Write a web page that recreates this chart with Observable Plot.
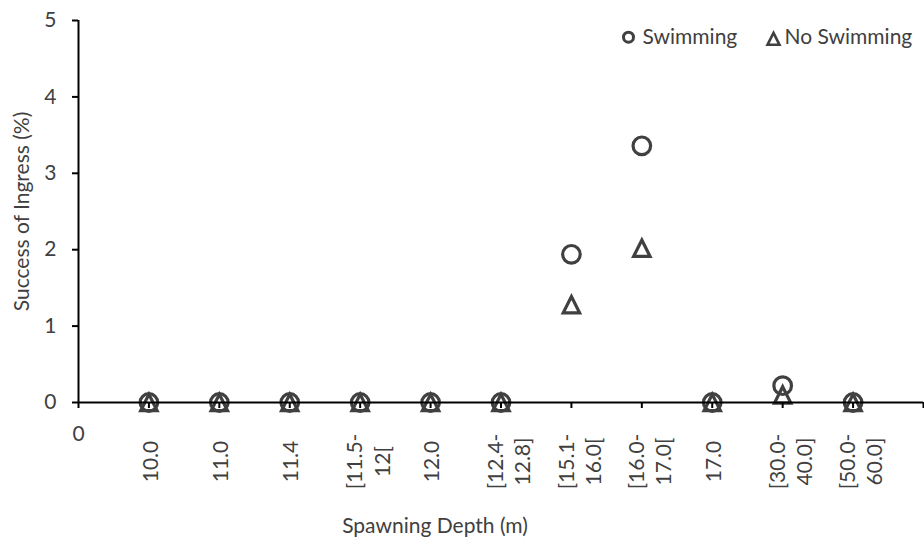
<!DOCTYPE html>
<html>
<head>
<meta charset="utf-8">
<script src="https://cdn.jsdelivr.net/npm/d3@7"></script>
<script src="https://cdn.jsdelivr.net/npm/@observablehq/plot@0.6"></script>
<style>
  html, body { margin: 0; padding: 0; background: #fff; }
  #chart svg { display: block; }
</style>
</head>
<body>
<div id="chart"></div>
<script>
// Spawning depth classes (category axis, positions 1..11)
const categories = [
  "10.0", "11.0", "11.4", "[11.5-\n12[", "12.0", "[12.4-\n12.8]",
  "[15.1-\n16.0[", "[16.0-\n17.0[", "17.0", "[30.0-\n40.0]", "[50.0-\n60.0]"
];
// Success of ingress (%) per depth class
const swimming   = [0, 0, 0, 0, 0, 0, 1.94, 3.36, 0, 0.22, 0];
const noSwimming = [0, 0, 0, 0, 0, 0, 1.28, 2.02, 0, 0.10, 0];
const seriesNames = ["Swimming", "No Swimming"];
const yTicks = [0, 1, 2, 3, 4, 5];
const xTicks = d3.range(0, 13);
const xOriginLabel = "0";

const ink = "#404040";
const font = "Lato, 'Open Sans', sans-serif";
const fs = 21;

// Triangle that fills a square box (width = height), centred on the point
const boxTriangle = {
  draw(context, size) {
    const r = Math.sqrt(size / Math.PI);
    context.moveTo(0, -r);
    context.lineTo(r, r);
    context.lineTo(-r, r);
    context.closePath();
  }
};

const points = (values) => values.map((v, i) => ({pos: i + 1, value: v}));
const labels = categories.map((c, i) => ({pos: i + 1, label: c, multi: c.includes("\n")}));

const chart = Plot.plot({
  width: 924,
  height: 537,
  marginLeft: 78,
  marginRight: 1,
  marginTop: 20,
  marginBottom: 135,
  x: {domain: [0, 12], axis: null},
  y: {domain: [0, 5], axis: null},
  style: {fontFamily: font, fontSize: fs + "px", background: "#fff", color: ink},
  marks: [
    // series markers
    Plot.dot(points(swimming), {
      x: "pos", y: "value", symbol: "circle", r: 8.8,
      fill: "none", stroke: ink, strokeWidth: 3.2
    }),
    Plot.dot(points(noSwimming), {
      x: "pos", y: "value", symbol: boxTriangle, r: 8.2,
      fill: "none", stroke: ink, strokeWidth: 3.2
    }),

    // axis lines
    Plot.ruleX([0], {y1: 0, y2: 5, stroke: "black", strokeWidth: 2}),
    Plot.ruleY([0], {x1: 0, x2: 12, stroke: "black", strokeWidth: 2}),

    // y axis ticks and labels
    Plot.axisY(yTicks, {
      tickSize: 6, tickPadding: 16, stroke: "black", strokeWidth: 2,
      tickFormat: (d) => String(d), fill: ink, fontSize: fs, label: null
    }),
    // x axis tick marks
    Plot.axisX(xTicks, {
      tickSize: 6, tickFormat: () => "", stroke: "black", strokeWidth: 2, label: null
    }),

    // origin label of the x axis
    Plot.text([xOriginLabel], {
      x: () => 0, y: () => 0, text: (d) => d, dy: 32,
      fill: ink, fontSize: fs
    }),
    // rotated depth-class labels
    Plot.text(labels.filter((d) => !d.multi), {
      x: "pos", y: () => 0, text: "label", rotate: -90, dy: 59, dx: 2,
      textAnchor: "middle", lineAnchor: "middle", fill: ink, fontSize: fs
    }),
    Plot.text(labels.filter((d) => d.multi), {
      x: "pos", y: () => 0, text: "label", rotate: -90, dy: 59, dx: 7,
      textAnchor: "middle", lineAnchor: "middle", lineHeight: 1.3,
      fill: ink, fontSize: fs
    }),

    // axis titles
    Plot.text(["Success of Ingress (%)"], {
      frameAnchor: "left", rotate: -90, dx: -56, text: (d) => d,
      textAnchor: "middle", lineAnchor: "middle", fill: ink, fontSize: fs
    }),
    Plot.text(["Spawning Depth (m)"], {
      frameAnchor: "bottom", dy: 124, dx: -66, text: (d) => d,
      textAnchor: "middle", lineAnchor: "middle", fill: ink, fontSize: fs
    }),

    // legend
    Plot.dot([seriesNames[0]], {
      frameAnchor: "top-left", dx: 550, dy: 16.7, symbol: "circle", r: 5,
      fill: "none", stroke: ink, strokeWidth: 3
    }),
    Plot.text([seriesNames[0]], {
      frameAnchor: "top-left", dx: 564, dy: 16.5, text: (d) => d,
      textAnchor: "start", lineAnchor: "middle", fill: ink, fontSize: fs
    }),
    Plot.dot([seriesNames[1]], {
      frameAnchor: "top-left", dx: 695, dy: 18.3, symbol: boxTriangle, r: 6,
      fill: "none", stroke: ink, strokeWidth: 2.6
    }),
    Plot.text([seriesNames[1]], {
      frameAnchor: "top-left", dx: 706, dy: 16.5, text: (d) => d,
      textAnchor: "start", lineAnchor: "middle", fill: ink, fontSize: fs
    })
  ]
});

document.getElementById("chart").append(chart);
</script>
</body>
</html>
